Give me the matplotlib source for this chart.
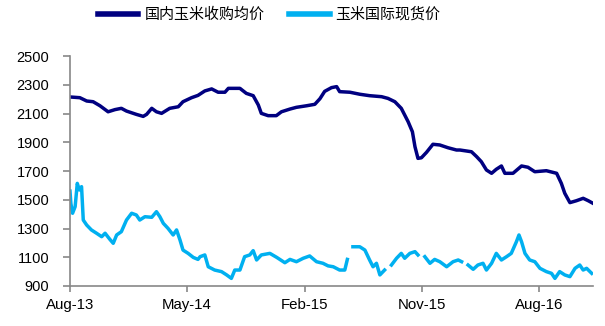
import matplotlib
matplotlib.use("Agg")
import matplotlib.pyplot as plt
import numpy as np
import pandas as pd

plt.rcParams['font.family'] = ['Liberation Sans', 'Noto Sans CJK SC', 'DejaVu Sans']

# 国内玉米收购均价
dom_dates = ["2013-08-01", "2013-08-24", "2013-09-09", "2013-09-24", "2013-10-10", "2013-10-29",
             "2013-11-14", "2013-11-29", "2013-12-11", "2014-01-03", "2014-01-19", "2014-01-27",
             "2014-02-08", "2014-02-19", "2014-03-03", "2014-03-22", "2014-04-11", "2014-04-22",
             "2014-05-12", "2014-05-27", "2014-06-12", "2014-06-28", "2014-07-13", "2014-07-29",
             "2014-08-06", "2014-09-02", "2014-09-17", "2014-10-03", "2014-10-15", "2014-10-22",
             "2014-11-07", "2014-11-26", "2014-12-08", "2014-12-28", "2015-01-12", "2015-02-05",
             "2015-02-24", "2015-03-08", "2015-03-19", "2015-04-04", "2015-04-16", "2015-04-23",
             "2015-05-17", "2015-06-09", "2015-07-02", "2015-07-30", "2015-08-14", "2015-08-30",
             "2015-09-14", "2015-09-30", "2015-10-10", "2015-10-16", "2015-10-23", "2015-10-31",
             "2015-11-12", "2015-11-27", "2015-12-13", "2016-01-01", "2016-01-21", "2016-01-29",
             "2016-02-25", "2016-03-08", "2016-03-19", "2016-03-31", "2016-04-12", "2016-04-23",
             "2016-05-05", "2016-05-13", "2016-06-01", "2016-06-21", "2016-07-06", "2016-07-22",
             "2016-08-18", "2016-09-11", "2016-09-22", "2016-09-30", "2016-10-12", "2016-10-27",
             "2016-11-12", "2016-11-24", "2016-12-05"]
dom_vals = [2215, 2210, 2187, 2182, 2154, 2112,
            2127, 2136, 2117, 2094, 2080, 2094,
            2136, 2112, 2101, 2136, 2147, 2182,
            2210, 2226, 2257, 2271, 2248, 2248,
            2275, 2275, 2240, 2224, 2159, 2101,
            2085, 2085, 2112, 2131, 2143, 2154,
            2164, 2203, 2254, 2280, 2287, 2252,
            2248, 2234, 2224, 2217, 2205, 2182,
            2136, 2043, 1973, 1869, 1788, 1792,
            1830, 1886, 1881, 1862, 1846, 1846,
            1834, 1800, 1765, 1707, 1684, 1712,
            1735, 1684, 1684, 1735, 1726, 1695,
            1702, 1684, 1614, 1545, 1480, 1493,
            1510, 1493, 1475]

# 玉米国际现货价 (None = 缺失)
intl_dates = ["2013-08-01", "2013-08-03", "2013-08-07", "2013-08-13", "2013-08-18", "2013-08-23",
              "2013-08-28", "2013-09-01", "2013-09-09", "2013-09-20", "2013-10-02", "2013-10-14",
              "2013-10-22", "2013-11-02", "2013-11-10", "2013-11-18", "2013-11-29", "2013-12-11",
              "2013-12-23", "2014-01-03", "2014-01-11", "2014-01-23", "2014-02-08", "2014-02-19",
              "2014-02-27", "2014-03-07", "2014-03-18", "2014-03-30", "2014-04-07", "2014-04-15",
              "2014-04-22", "2014-05-04", "2014-05-16", "2014-05-27", "2014-06-01", "2014-06-12",
              "2014-06-20", "2014-07-05", "2014-07-21", "2014-08-02", "2014-08-13", "2014-08-21",
              "2014-09-02", "2014-09-13", "2014-09-25", "2014-10-03", "2014-10-11", "2014-10-22",
              "2014-11-11", "2014-11-27", "2014-12-16", "2014-12-28", "2015-01-12", "2015-01-28",
              "2015-02-12", "2015-02-28", "2015-03-15", "2015-03-27", "2015-04-08", "2015-04-23",
              "2015-05-05", "2015-05-11", "2015-05-16", "2015-05-24", "2015-06-09", "2015-06-21",
              "2015-07-02", "2015-07-10", "2015-07-18", "2015-07-26", "2015-08-06", "2015-08-12",
              "2015-08-22", "2015-09-03", "2015-09-14", "2015-09-22", "2015-10-04", "2015-10-16",
              "2015-10-23", "2015-10-29", "2015-11-08", "2015-11-20", "2015-12-01", "2015-12-13",
              "2015-12-29", "2016-01-13", "2016-01-25", "2016-02-02", "2016-02-08", "2016-02-17",
              "2016-02-29", "2016-03-11", "2016-03-23", "2016-03-31", "2016-04-12", "2016-04-23",
              "2016-05-05", "2016-05-17", "2016-05-28", "2016-06-09", "2016-06-15", "2016-06-21",
              "2016-06-29", "2016-07-10", "2016-07-22", "2016-08-03", "2016-08-18", "2016-08-30",
              "2016-09-07", "2016-09-18", "2016-09-30", "2016-10-12", "2016-10-24", "2016-11-04",
              "2016-11-12", "2016-11-20", "2016-12-02"]
intl_vals = [1560, 1475, 1406, 1452, 1614, 1568,
             1591, 1359, 1324, 1290, 1267, 1243,
             1267, 1225, 1197, 1255, 1278, 1359,
             1406, 1394, 1359, 1382, 1378, 1417,
             1382, 1336, 1301, 1255, 1290, 1220,
             1150, 1127, 1099, 1085, 1104, 1116,
             1034, 1011, 1000, 977, 953, 1011,
             1011, 1104, 1116, 1146, 1081, 1116,
             1127, 1099, 1062, 1085, 1069, 1093,
             1109, 1069, 1058, 1040, 1034, 1011,
             1011, 1085, None, 1173, 1173, 1150,
             1081, 1034, 1058, 977, 1011, None,
             1046, 1093, 1127, 1093, 1127, 1139,
             1116, None, 1104, 1058, 1085, 1069,
             1034, 1069, 1081, 1069, None, 1046,
             1016, 1046, 1058, 1011, 1058, 1127,
             1081, 1104, 1127, 1208, 1255, 1208,
             1127, 1081, 1069, 1023, 1000, 988,
             953, 1000, 977, 965, 1023, 1046,
             1011, 1023, 988]

tick_dates = ["2013-08-01", "2014-05-01", "2015-02-01", "2015-11-01", "2016-08-01"]
tick_labels = ["Aug-13", "May-14", "Feb-15", "Nov-15", "Aug-16"]

dom_x = pd.to_datetime(dom_dates)
intl_x = pd.to_datetime(intl_dates)
intl_y = np.array([np.nan if v is None else v for v in intl_vals], dtype=float)

fig = plt.figure(figsize=(6.05, 3.26), dpi=100)
ax = fig.add_axes([0.1157, 0.1227, 0.8645, 0.7055])

l1, = ax.plot(dom_x, dom_vals, color='#000080', lw=2.5, label='国内玉米收购均价')
l2, = ax.plot(intl_x, intl_y, color='#00b0f0', lw=2.5, label='玉米国际现货价')

ax.set_ylim(900, 2500)
ax.set_yticks(range(900, 2501, 200))
ax.set_xlim(pd.Timestamp("2013-08-01"), pd.Timestamp("2016-12-05"))
ax.set_xticks(pd.to_datetime(tick_dates))
ax.set_xticklabels(tick_labels)

for s in ['top', 'right']:
    ax.spines[s].set_visible(False)
for s in ['left', 'bottom']:
    ax.spines[s].set_color('#888888')
    ax.spines[s].set_linewidth(1.2)
ax.tick_params(axis='x', colors='#888888', length=4, width=1.2, labelsize=10.8, labelcolor='black', pad=5)
ax.tick_params(axis='y', colors='#888888', length=5, width=1.2, labelsize=10.5, labelcolor='black', pad=10)

fig.legend(handles=[l1, l2], loc='center', bbox_to_anchor=(0.445, 0.955), ncol=2, frameon=False,
           prop={'family': ['Noto Sans CJK SC'], 'size': 10.8}, handlelength=2.7,
           handletextpad=0.4, columnspacing=1.65)
for h in fig.legends[0].get_lines():
    h.set_linewidth(4)

fig.savefig("out.png", dpi=100)
